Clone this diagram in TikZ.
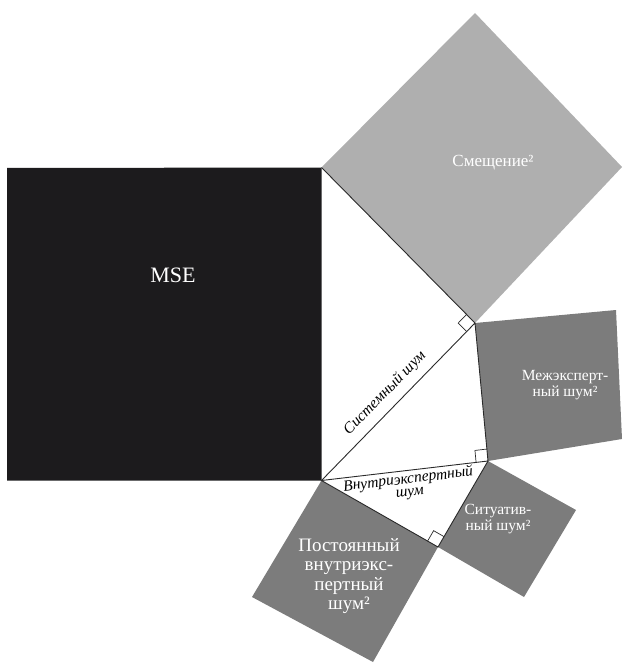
\documentclass[tikz,border=0pt]{standalone}
\usepackage{fontspec}
\setmainfont{Liberation Serif}
\usetikzlibrary{calc}
\definecolor{msecol}{HTML}{1C1B1D}
\definecolor{biascol}{HTML}{AFAFAF}
\definecolor{noisecol}{HTML}{7C7C7C}
\definecolor{linecol}{HTML}{2A2A2A}
\begin{document}
\begin{tikzpicture}[x=1pt,y=-1pt,
  edge/.style={draw=linecol,line width=0.9pt},
  ra/.style={draw=linecol,line width=0.7pt},
  wlab/.style={text=white,align=center,inner sep=0pt},
  ilab/.style={font=\itshape\fontsize{15.5}{13}\selectfont,align=center,inner sep=0pt}]
\useasboundingbox (0,0) rectangle (623,663);
% vertices
\coordinate (M1) at (7,168);
\coordinate (A) at (321.5,167.5);
\coordinate (B) at (321.5,480.5);
\coordinate (M4) at (7,480.5);
\coordinate (C) at (475,323);
\coordinate (T) at (475,13);
\coordinate (R) at (622,167);
\coordinate (D) at (488,461);
\coordinate (IT) at (616,310);
\coordinate (IB) at (622,439);
\coordinate (E) at (438,547);
\coordinate (PL) at (252,597);
\coordinate (PB) at (373,662);
\coordinate (SR) at (576,510);
\coordinate (SB) at (524,597);
% squares
\fill[msecol] (M1) -- (A) -- (B) -- (M4) -- cycle;
\fill[biascol] (A) -- (T) -- (R) -- (C) -- cycle;
\fill[noisecol] (C) -- (IT) -- (IB) -- (D) -- cycle;
\fill[noisecol] (B) -- (E) -- (PB) -- (PL) -- cycle;
\fill[noisecol] (E) -- (D) -- (SR) -- (SB) -- cycle;
% triangle edges
\draw[edge] (A) -- (C) -- (B) -- (D) -- (C);
\draw[edge] (B) -- (E) -- (D);
% right angle marks
\coordinate (ca) at ($(C)!12pt!(A)$);
\coordinate (cb) at ($(C)!12pt!(B)$);
\draw[ra] (ca) -- ($(ca)+(cb)-(C)$) -- (cb);
\coordinate (dc) at ($(D)!12pt!(C)$);
\coordinate (db) at ($(D)!12pt!(B)$);
\draw[ra] (dc) -- ($(dc)+(db)-(D)$) -- (db);
\coordinate (eb) at ($(E)!12pt!(B)$);
\coordinate (ed) at ($(E)!12pt!(D)$);
\draw[ra] (eb) -- ($(eb)+(ed)-(E)$) -- (ed);
% labels
\node[wlab,font=\fontsize{22}{24}\selectfont] (mse) at (173,275) {MSE};
\node[wlab,font=\fontsize{17}{18}\selectfont] (bias) at (493,163) {Смещение²};
\node[wlab,font=\fontsize{15.5}{16}\selectfont] (inter) at (565,385) {Межэксперт-\\ный шум²};
\node[wlab,font=\fontsize{15.5}{16}\selectfont] (sit) at (498,519) {Ситуатив-\\ный шум²};
\node[wlab,font=\fontsize{19}{19.5}\selectfont] (perm) at (349,576) {Постоянный\\внутриэкс-\\пертный\\шум²};
\node[ilab,rotate=45.7] (sys) at (385,393) {Системный шум};
\node[ilab,rotate=6.8] (intra) at (409,486) {Внутриэкспертный\\шум};
\end{tikzpicture}
\end{document}
